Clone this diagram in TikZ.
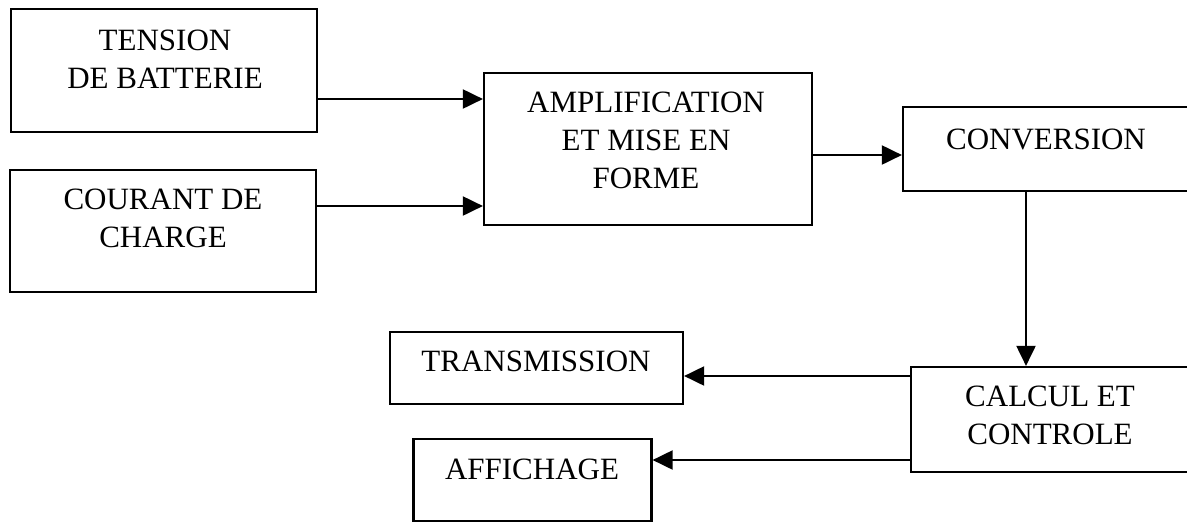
\documentclass[tikz,border=0pt]{standalone}
\usepackage{fontspec}
\setmainfont{Liberation Serif}
\usetikzlibrary{arrows.meta}
\tikzset{
  blk/.style ={draw, line width=2.2pt, inner sep=0pt},
  lbl/.style ={align=center, inner sep=0pt, font=\fontsize{31}{38}\selectfont},
  flow/.style={-{Triangle[length=20pt, width=19pt]}, line width=2pt},
}

\begin{document}
\begin{tikzpicture}[x=1pt, y=-1pt]
  \clip (0,0) rectangle (1187,523);
  \fill[white] (0,0) rectangle (1187,523);

  % ---- measured inputs -----------------------------------------------------
  \node[blk, minimum width=306pt, minimum height=123pt] (tens) at (164,70.5) {};
  \node[lbl] (tens-t) at (165,59) {TENSION\\DE BATTERIE};
  \node[blk, minimum width=306pt, minimum height=122pt] (cour) at (163,231) {};
  \node[lbl] (cour-t) at (163,218) {COURANT DE\\CHARGE};

  % ---- processing chain ----------------------------------------------------
  \node[blk, minimum width=328pt, minimum height=152pt] (ampl) at (648,149) {};
  \node[lbl] (ampl-t) at (646,140) {AMPLIFICATION\\ET MISE EN\\FORME};
  \node[blk, minimum width=292pt, minimum height=84pt] (conv) at (1049,149) {};
  \node[lbl] (conv-t) at (1046,139) {CONVERSION};
  \node[blk, minimum width=284pt, minimum height=105pt] (calc) at (1053,419.5) {};
  \node[lbl] (calc-t) at (1050,415) {CALCUL ET\\CONTROLE};

  % ---- outputs -------------------------------------------------------------
  \node[blk, minimum width=293pt, minimum height=72pt] (trans) at (536.5,368) {};
  \node[lbl] (trans-t) at (536,361) {TRANSMISSION};
  \node[blk, minimum width=238pt, minimum height=82pt] (aff) at (532.5,480) {};
  \node[lbl] (aff-t) at (532,469) {AFFICHAGE};

  % ---- connections ---------------------------------------------------------
  \draw[flow] ([yshift=-28.5pt]tens.east) -- ([yshift=-28.5pt]tens.east -| ampl.west);
  \draw[flow] ([yshift=25pt]cour.east) -- ([yshift=25pt]cour.east -| ampl.west);
  \draw[flow] ([yshift=-6pt]ampl.east) -- ([yshift=-6pt]ampl.east -| conv.west);
  \draw[flow] ([xshift=-23pt]conv.south) -- ([xshift=-23pt]conv.south |- calc.north);
  \draw[flow] ([yshift=43.5pt]calc.west) -- ([yshift=43.5pt]calc.west -| trans.east);
  \draw[flow] ([yshift=-40.5pt]calc.west) -- ([yshift=-40.5pt]calc.west -| aff.east);
\end{tikzpicture}
\end{document}
